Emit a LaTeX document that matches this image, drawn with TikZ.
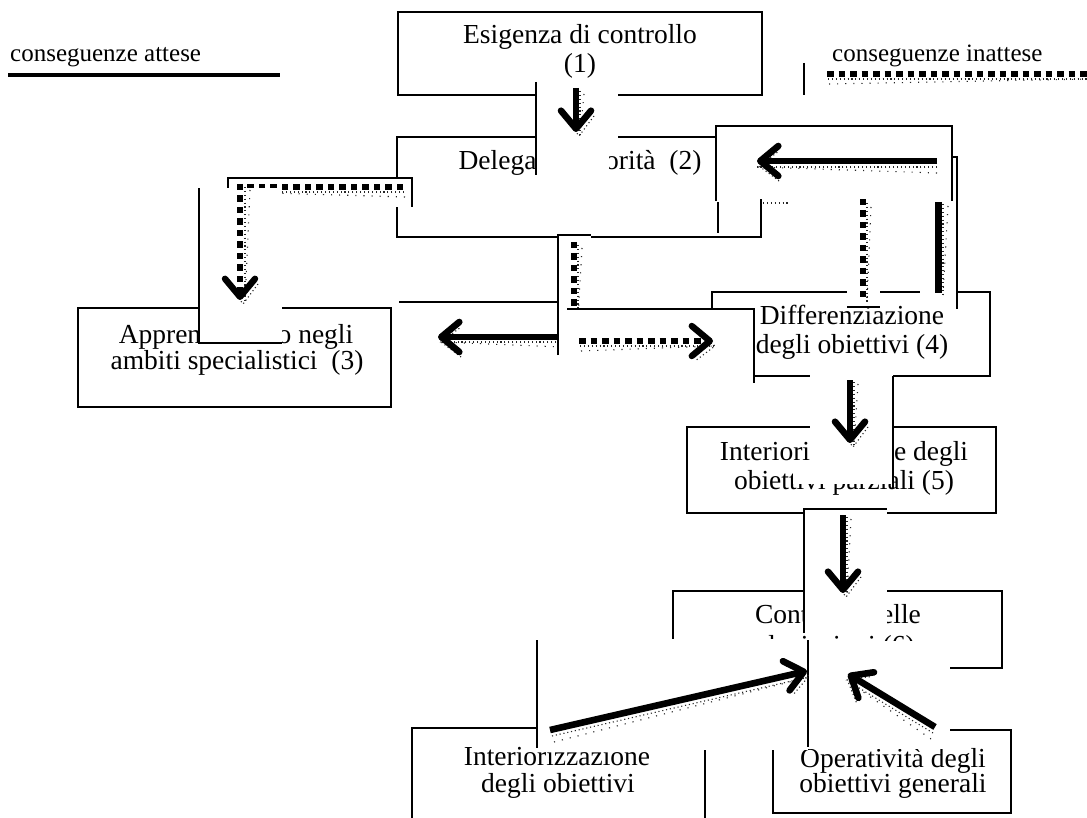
\documentclass[tikz,border=0pt]{standalone}
\usepackage{fontspec}
\setmainfont{Liberation Serif}
\usetikzlibrary{arrows.meta,calc}

% dotted drop-shade under a connector: optional shift, tail, tip
\newcommand{\shadeline}[3][(2,5)]{%
  \draw[shade] ([shift={#1}]#2) -- ([shift={#1}]#3);
  \draw[shade, dash pattern=on 1.1pt off 7pt] ([shift={#1}]#2) ++#1 -- ([shift={#1}]#3);}
\newcommand{\shadehead}[3][(2,5)]{%
  \draw[shade] ($(#3)!20pt!(#2)!15pt!90:(#3)+#1$) -- ($(#3)+#1$)
               -- ($(#3)!20pt!(#2)!15pt!-90:(#3)+#1$);}

\begin{document}
\begin{tikzpicture}[x=1pt,y=-1pt,
  box/.style={draw, line width=2.9pt, inner sep=0pt},
  label/.style={anchor=base, inner sep=0pt, font=\fontsize{27.5}{30}\selectfont},
  legend/.style={anchor=base west, inner sep=0pt, font=\fontsize{25}{28}\selectfont},
  cover/.style={fill=white},
  edge/.style={line width=1.2pt},
  shade/.style={draw=black!85, line width=1.1pt, dash pattern=on 1.1pt off 2.8pt},
  plainline/.style={line width=6.6pt},
  squareline/.style={line width=6.4pt, dash pattern=on 6.5pt off 5pt},
  plainarrow/.style={plainline, -{Straight Barb[length=18pt,width=30pt,round]}},
  squarearrow/.style={squareline, -{Straight Barb[length=18pt,width=30pt,round]}}]

\useasboundingbox (0,0) rectangle (1087,818);
\fill[white] (0,0) rectangle (1087,818);

% ---------- boxes ----------
\node[box, minimum width=364pt, minimum height=83pt] (esig) at (580,53.5) {};
\node[label] (esigA) at (580,44) {Esigenza di controllo};
\node[label] (esigB) at (580,73) {(1)};

\node[box, minimum width=364pt, minimum height=100pt] (deleg) at (579,187) {};
\node[label] (delegA) at (580,170) {Delega di autorità\ \ (2)};

\node[box, minimum width=313pt, minimum height=99pt] (appr) at (234.5,357.5) {};
\node[label] (apprA) at (236,343) {Apprendimento negli};
\node[label] (apprB) at (237,370) {ambiti specialistici\ \ (3)};

\node[box, minimum width=278pt, minimum height=84pt] (diff) at (851,334) {};
\node[label] (diffA) at (852,325) {Differenziazione};
\node[label] (diffB) at (852,353) {degli obiettivi (4)};

\node[box, minimum width=309pt, minimum height=86pt] (parz) at (841.5,470) {};
\node[label] (parzA) at (844,460) {Interiorizzazione degli};
\node[label] (parzB) at (844,489) {obiettivi parziali (5)};

\node[box, minimum width=329pt, minimum height=77pt] (contr) at (837.5,629.5) {};
\node[label] (contrA) at (838,623) {Controllo delle};
\node[label] (contrB) at (838,654) {deviazioni (6)};

\node[box, minimum width=293pt, minimum height=102pt] (inter) at (558.5,779) {};
\node[label] (interA) at (557,765) {Interiorizzazione};
\node[label] (interB) at (558,792) {degli obiettivi};

\node[box, minimum width=238pt, minimum height=83pt] (oper) at (892,771.5) {};
\node[label] (operA) at (893,767) {Operatività degli};
\node[label] (operB) at (893,792) {obiettivi generali};

% ---------- legend ----------
\node[legend] (leg1) at (10,62) {conseguenze attese};
\coordinate (leg1a) at (8,75);
\coordinate (leg1b) at (280,75);
\draw[line width=4.5pt] (leg1a) -- (leg1b);

\node[legend] (leg2) at (832,62) {conseguenze inattese};
\coordinate (leg2a) at (827,74);
\coordinate (leg2b) at (1090,74);
\draw[edge] (804,63) -- (804,95);
\shadeline[(1,5)]{leg2a}{leg2b}
\draw[squareline] (leg2a) -- (leg2b);

% ---------- (1) -> (2) ----------
\fill[cover] (536,82) rectangle (618,150);
\fill[cover] (536,150) rectangle (609,175);
\draw[edge] (536,82) -- (536,175);
\coordinate (a12t) at (576,88);
\coordinate (a12h) at (576,132);
\shadeline[(4,3)]{a12t}{a12h}
\shadehead[(3,4)]{a12t}{a12h}
\draw[plainarrow] (a12t) -- (a12h);

% ---------- (2) -> (3), L-shaped ----------
\fill[cover] (228,178) rectangle (412,207);
\draw[edge] (228,188) |- (412,178) -- (412,207);
\coordinate (lstart) at (403,187);
\coordinate (lcorner) at (237,187);
\coordinate (ltop) at (240,184);
\coordinate (lend) at (240,300);
\shadeline[(1,5)]{lstart}{lcorner}
\draw[squareline] (lstart) -- (lcorner);
\fill[cover] (199,188.5) rectangle (282,343);
\draw[edge] (199,188.5) |- (282,343);
\shadeline[(5,3)]{ltop}{lend}
\shadehead[(3,4)]{ltop}{lend}
\draw[squarearrow] (ltop) -- (lend);

% ---------- (2) -> (3), straight ----------
\fill[cover] (398,302) rectangle (559,385);
\draw[edge] (399,302) -- (559,302);
\coordinate (clt) at (558,337);
\coordinate (clh) at (438,337);
\shadeline[(2,5)]{clt}{clh}
\shadehead[(3,5)]{clt}{clh}
\draw[plainarrow] (clt) -- (clh);

% ---------- (2) -> (4), dotted ----------
\fill[cover] (558,235) rectangle (591,355);
\draw[edge] (558,355) |- (591,235);
\coordinate (dvt) at (574,242);
\coordinate (dve) at (574,315);
\shadeline[(4,3)]{dvt}{dve}
\draw[squareline] (dvt) -- (dve);

\fill[cover] (567,309) rectangle (754,383);
\draw[edge] (567,309) -| (754,383);
\coordinate (drt) at (579,341);
\coordinate (drh) at (713,341);
\shadeline[(1,5)]{drt}{drh}
\shadehead[(2,5)]{drt}{drh}
\draw[squarearrow] (drt) -- (drh);

% ---------- (4) -> (2), feedback ----------
\fill[cover] (920,157) rectangle (957,305);
\draw[edge] (920,157) -| (957,309);
\fill[cover] (847,190) rectangle (880,307);
\draw[edge] (847,307) -- (880,307);
\draw[edge] (718,202) -- (718,233);
\coordinate (evt) at (863,199);
\coordinate (eve) at (863,298);
\shadeline[(4,4)]{evt}{eve}
\draw[squareline] (evt) -- (eve);
\coordinate (est) at (938,202);
\coordinate (ese) at (938,293);
\shadeline[(5,2)]{est}{ese}
\draw[plainline, line width=7pt] (est) -- (ese);

\fill[cover] (716,126) rectangle (952,199);
\draw[edge] (716,201) |- (952,126) -- (952,201);
\coordinate (e1t) at (937,161);
\coordinate (e1h) at (757,161);
\shadeline[(0,6)]{e1t}{e1h}
\shadehead[(2,5)]{e1t}{e1h}
\draw[plainarrow] (e1t) -- (e1h);
\draw[shade] (763,203) -- (790,203);

% ---------- (4) -> (5) ----------
\fill[cover] (810,374.5) rectangle (893,484);
\fill[cover] (793,463) rectangle (810,484);
\draw[edge] (893,376) -- (893,488);
\coordinate (a45t) at (850,380);
\coordinate (a45h) at (850,443);
\shadeline[(4,2)]{a45t}{a45h}
\shadehead[(3,4)]{a45t}{a45h}
\draw[plainarrow] (a45t) -- (a45h);

% ---------- (5) -> (6) ----------
\fill[cover] (804,509) rectangle (887,633);
\draw[edge] (804,633) |- (887,509);
\coordinate (a56t) at (843,515);
\coordinate (a56h) at (843,593);
\shadeline[(4,2)]{a56t}{a56h}
\shadehead[(3,4)]{a56t}{a56h}
\draw[plainarrow] (a56t) -- (a56h);

% ---------- lower feedbacks into (6) ----------
\fill[cover] (537,639) rectangle (808,750);
\draw[edge] (537,640) -- (537,748);
\fill[cover] (808,641) rectangle (950,749);
\draw[edge] (808,640) -- (808,747);

\coordinate (lot) at (550,730);
\coordinate (loh) at (807,671);
\shadeline[(2,6)]{lot}{loh}
\shadehead[(2,5)]{lot}{loh}
\draw[plainarrow] (lot) -- (loh);

\coordinate (sht) at (935,727);
\coordinate (shh) at (848,674);
\shadeline[(-2,6)]{sht}{shh}
\shadehead[(-1,5)]{sht}{shh}
\draw[plainarrow] (sht) -- (shh);

\end{tikzpicture}
\end{document}
